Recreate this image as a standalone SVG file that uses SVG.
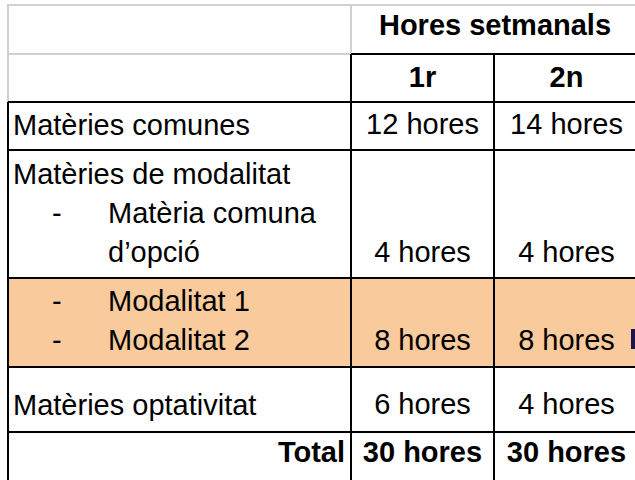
<svg xmlns="http://www.w3.org/2000/svg" width="635" height="480" viewBox="0 0 635 480">
<style>
text{font-family:"Liberation Sans",Arial,sans-serif;font-size:29px;fill:#000}
.b{font-weight:bold}
.c{text-anchor:middle}
.r{text-anchor:end}
.g{stroke:#d0d0d0;stroke-width:2;fill:none}
.k{stroke:#000;stroke-width:2;fill:none}
</style>
<rect width="635" height="480" fill="#fff"/>
<rect id="highlight" x="8" y="278" width="627" height="89" fill="#f9cb9c"/>
<g id="grid">
<path class="g" d="M7 5H635M8 5V102M8 54H351M351 5V54"/>
<path class="k" d="M351 54H635M8 102H635M8 150H635M8 278H635M8 367H635M8 432H635M8 102V480M351 54V480M494 54V480"/>
</g>
<g id="header">
<text class="b c" x="495" y="35">Hores setmanals</text>
<text class="b c" x="422.5" y="87">1r</text>
<text class="b c" x="566.5" y="87">2n</text>
</g>
<g id="row-comunes">
<text x="13" y="135">Matèries comunes</text>
<text class="c" x="422.5" y="134">12 hores</text>
<text class="c" x="566.5" y="134">14 hores</text>
</g>
<g id="row-modalitat">
<text x="13" y="184">Matèries de modalitat</text>
<text x="52" y="223">-</text>
<text x="108" y="223">Matèria comuna</text>
<text x="108" y="262">d’opció</text>
<text class="c" x="422.5" y="262">4 hores</text>
<text class="c" x="566.5" y="262">4 hores</text>
</g>
<g id="row-modalitats">
<text x="52" y="311">-</text>
<text x="108" y="311">Modalitat 1</text>
<text x="52" y="350">-</text>
<text x="108" y="350">Modalitat 2</text>
<text class="c" x="422.5" y="350">8 hores</text>
<text class="c" x="566.5" y="350">8 hores</text>
<rect x="631" y="329" width="5" height="20" fill="#20124d"/>
</g>
<g id="row-optativitat">
<text x="13" y="415">Matèries optativitat</text>
<text class="c" x="422.5" y="414">6 hores</text>
<text class="c" x="566.5" y="414">4 hores</text>
</g>
<g id="row-total">
<text class="b r" x="345" y="462">Total</text>
<text class="b c" x="422.5" y="462">30 hores</text>
<text class="b c" x="566.5" y="462">30 hores</text>
</g>
</svg>
